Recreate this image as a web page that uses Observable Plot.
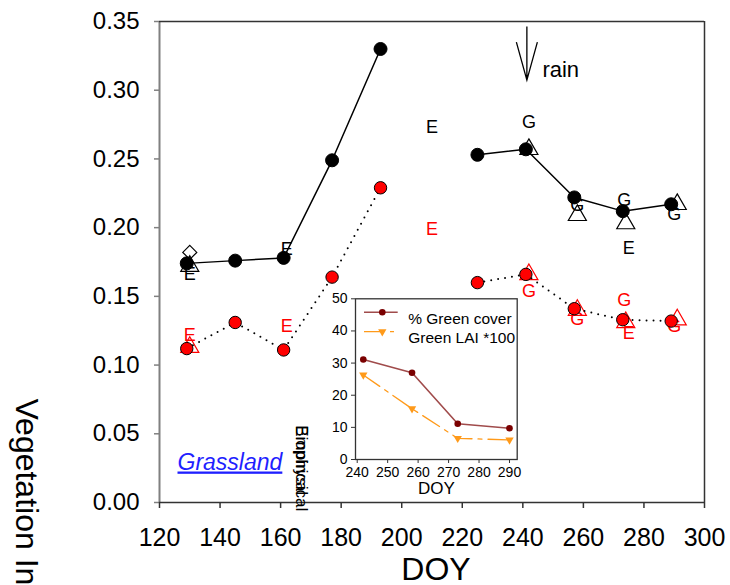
<!DOCTYPE html>
<html>
<head>
<meta charset="utf-8">
<script src="https://cdn.jsdelivr.net/npm/d3@7"></script>
<script src="https://cdn.jsdelivr.net/npm/@observablehq/plot@0.6"></script>
<style>
  html, body { margin: 0; padding: 0; background: #fff; }
  #chart { position: relative; width: 730px; height: 585px; overflow: hidden; background: #fff; }
  #chart > svg { position: absolute; }
</style>
</head>
<body>
<div id="chart"></div>
<script>
// 16-day composite dates (day of year) and the two vegetation index series
const doy = [129, 145, 161, 177, 193, 225, 241, 257, 273, 289];
const viUpper = [0.174, 0.176, 0.178, 0.249, 0.330, 0.253, 0.257, 0.222, 0.212, 0.217];
const viLower = [0.112, 0.131, 0.111, 0.164, 0.229, 0.160, 0.166, 0.141, 0.133, 0.132];

// Field samples (open triangles) for each index
const fieldDoy = [130, 242, 258, 274, 291];
const fieldUpper = [0.172, 0.257, 0.209, 0.203, 0.217];
const fieldLower = [0.113, 0.166, 0.140, 0.131, 0.133];

// Extra sample (open diamond)
const diamondDoy = [130];
const diamondUpper = [0.182];

// Estimates shown as letters (E / G)
const letters = ["E", "E", "E", "G", "G", "G", "E", "G"];
const letterDoy = [130, 162, 210, 242, 258, 273.5, 275, 290];
const letterUpper = [0.166, 0.184, 0.273, 0.277, 0.216, 0.220, 0.185, 0.210];
const letterLower = [0.122, 0.128, 0.199, 0.154, 0.133, 0.147, 0.123, 0.128];

// Rain event
const rainDoy = 241.5;
const rainLabel = "rain";

// Axis ticks
const xTickValues = [120, 140, 160, 180, 200, 220, 240, 260, 280, 300];
const yTickValues = [0, 0.05, 0.10, 0.15, 0.20, 0.25, 0.30, 0.35];

// Inset: green cover and green LAI
const insetDoy = [242, 258, 273, 290];
const greenCover = [31.1, 27.0, 11.1, 9.7];
const greenLai100 = [26.3, 15.8, 6.6, 6.1];
const insetXTicks = [240, 250, 260, 270, 280, 290];
const insetYTicks = [0, 10, 20, 30, 40, 50];
const insetSeries = ["% Green cover", "Green LAI *100"];

const overlayLabels = ["Biophysical", "Empirical"];
const siteLabel = "Grassland";

const font = "'Liberation Sans', Arial, Helvetica, sans-serif";
const RED = "#ff0000";
const coverLine = "#a04b4b", coverDot = "#7a0000";
const laiColor = "#ff9a1a";

const rows = doy.map((d, i) => ({doy: d, upper: viUpper[i], lower: viLower[i], season: d < 210 ? "early" : "late"}));
const fieldRows = fieldDoy.map((d, i) => ({doy: d, upper: fieldUpper[i], lower: fieldLower[i]}));
const diamondRows = diamondDoy.map((d, i) => ({doy: d, upper: diamondUpper[i]}));
const letterRows = letterDoy.map((d, i) => ({doy: d, letter: letters[i], upper: letterUpper[i], lower: letterLower[i]}));

// Rain arrow: a stem with an open V head, anchored at the rain date
function rainArrow(index, {x, y}) {
  const px = x(rainDoy), top = y(0.346), tip = y(0.307);
  const g = d3.create("svg:g").attr("fill", "none").attr("stroke", "black").attr("stroke-width", 1.3);
  g.append("path").attr("d", `M${px},${top}V${tip}M${px - 10.5},${tip - 38}L${px},${tip}L${px + 10.5},${tip - 38}`);
  return g.node();
}

const main = Plot.plot({
  width: 730,
  height: 585,
  marginLeft: 159,
  marginRight: 26,
  marginTop: 21,
  marginBottom: 83,
  x: {domain: [120, 300]},
  y: {domain: [0, 0.35]},
  style: {fontFamily: font, background: "white", overflow: "visible", color: "black"},
  marks: [
    Plot.axisY(yTickValues, {tickSize: 5, tickPadding: 15, fontSize: 24, tickFormat: d3.format(".2f"), stroke: "#808080", strokeWidth: 1.5, label: null}),
    Plot.axisX(xTickValues, {tickSize: 6, tickPadding: 20, fontSize: 25, tickFormat: d => String(d), stroke: "#333", strokeWidth: 1.5, label: null}),
    Plot.ruleX([120], {stroke: "#808080", strokeWidth: 2}),
    Plot.ruleY([0], {stroke: "#333", strokeWidth: 1.5}),
    Plot.ruleY([0.35], {stroke: "#333", strokeWidth: 1.5}),
    Plot.ruleX([300], {stroke: "#333", strokeWidth: 1.5}),

    Plot.dot(fieldRows, {x: "doy", y: "upper", symbol: "triangle", r: 6.7, fill: "none", stroke: "black", strokeWidth: 1.2}),
    Plot.dot(fieldRows, {x: "doy", y: "lower", symbol: "triangle", r: 6.7, fill: "none", stroke: RED, strokeWidth: 1.2}),
    Plot.dot(diamondRows, {x: "doy", y: "upper", symbol: "diamond2", r: 6.3, fill: "none", stroke: "black", strokeWidth: 1.2}),

    Plot.text(letterRows, {x: "doy", y: "upper", text: "letter", fill: "black", fontSize: 18}),
    Plot.text(letterRows, {x: "doy", y: "lower", text: "letter", fill: RED, fontSize: 18}),

    Plot.line(rows, {x: "doy", y: "lower", z: "season", stroke: "black", strokeWidth: 2, strokeDasharray: "0,7", strokeLinecap: "round"}),
    Plot.line(rows, {x: "doy", y: "upper", z: "season", stroke: "black", strokeWidth: 1.5}),

    Plot.dot(rows, {x: "doy", y: "upper", r: 6.5, fill: "black", stroke: "black", strokeWidth: 1}),
    Plot.dot(rows, {x: "doy", y: "lower", r: 6.2, fill: RED, stroke: "black", strokeWidth: 1}),

    rainArrow,
    Plot.text([{doy: rainDoy, v: 0.307, label: rainLabel}], {x: "doy", y: "v", text: "label", dx: 15, dy: -11, textAnchor: "start", fontSize: 22}),

    Plot.text([siteLabel], {frameAnchor: "bottom-left", dx: 18, dy: -33, textAnchor: "start", fontSize: 23, fontStyle: "italic", fill: "#1f1fff"}),
    Plot.text(overlayLabels, {frameAnchor: "bottom-left", dx: 136, dy: -77.3, rotate: 90, textAnchor: "start", fontSize: 17, fill: "black"}),

    Plot.text(["DOY"], {frameAnchor: "bottom", dx: 4, dy: 77, fontSize: 32}),
    Plot.text(["Vegetation Index"], {frameAnchor: "top-left", dx: -121, dy: 377, rotate: 90, textAnchor: "start", fontSize: 32})
  ]
});

main.querySelectorAll("text").forEach(t => {
  if (t.textContent === siteLabel) t.setAttribute("text-decoration", "underline");
});

// Downward triangle marker for the LAI series
const triangleDown = {
  draw(context, size) {
    const h = Math.sqrt(size / (3 * Math.sqrt(3)));
    context.moveTo(0, 2 * h);
    context.lineTo(-Math.sqrt(3) * h, -h);
    context.lineTo(Math.sqrt(3) * h, -h);
    context.closePath();
  }
};

const insetRows = insetDoy.map((d, i) => ({doy: d, cover: greenCover[i], lai: greenLai100[i]}));

// Legend swatches inside the inset frame
function insetLegend(index, scales, values, dims) {
  const left = dims.marginLeft, top = dims.marginTop;
  const g = d3.create("svg:g");
  const r1 = top + 14, r2 = top + 33.4;
  g.append("line").attr("x1", left + 9).attr("x2", left + 42.7).attr("y1", r1).attr("y2", r1)
    .attr("stroke", coverLine).attr("stroke-width", 1.6);
  g.append("circle").attr("cx", left + 27.3).attr("cy", r1).attr("r", 3.3).attr("fill", coverDot);
  g.append("line").attr("x1", left + 9).attr("x2", left + 42.7).attr("y1", r2).attr("y2", r2)
    .attr("stroke", laiColor).attr("stroke-width", 1.3).attr("stroke-dasharray", "20,6,4,6");
  g.append("path").attr("d", d3.symbol(triangleDown, 30)()).attr("transform", `translate(${left + 27.3},${r2})`).attr("fill", laiColor);
  return g.node();
}

const inset = Plot.plot({
  width: 210,
  height: 220,
  marginLeft: 40,
  marginRight: 8.3,
  marginTop: 13.3,
  marginBottom: 46,
  x: {domain: [239.44, 292.53]},
  y: {domain: [0, 50]},
  style: {fontFamily: font, background: "transparent", overflow: "visible", color: "black"},
  marks: [
    Plot.frame({stroke: "#333", strokeWidth: 1.3}),
    Plot.axisY(insetYTicks, {tickSize: 4, tickPadding: 4, fontSize: 14, stroke: "#333", label: null}),
    Plot.axisX(insetXTicks, {tickSize: 4, tickPadding: 4, fontSize: 14, tickFormat: d => String(d), stroke: "#333", label: null}),
    Plot.line(insetRows, {x: "doy", y: "cover", stroke: coverLine, strokeWidth: 1.6}),
    Plot.dot(insetRows, {x: "doy", y: "cover", r: 3.3, fill: coverDot}),
    Plot.line(insetRows, {x: "doy", y: "lai", stroke: laiColor, strokeWidth: 1.3, strokeDasharray: "20,6,4,6"}),
    Plot.dot(insetRows, {x: "doy", y: "lai", symbol: triangleDown, r: 3.1, fill: laiColor}),
    insetLegend,
    Plot.text([insetSeries[0]], {frameAnchor: "top-left", dx: 52.7, dy: 14, textAnchor: "start", fontSize: 15.5}),
    Plot.text([insetSeries[1]], {frameAnchor: "top-left", dx: 52.7, dy: 33.4, textAnchor: "start", fontSize: 15.5}),
    Plot.text(["DOY"], {frameAnchor: "bottom", dy: 34, fontSize: 17})
  ]
});

const chart = document.getElementById("chart");
main.style.left = "0px";
main.style.top = "0px";
inset.style.left = "315px";
inset.style.top = "285px";
chart.appendChild(main);
chart.appendChild(inset);
</script>
</body>
</html>
